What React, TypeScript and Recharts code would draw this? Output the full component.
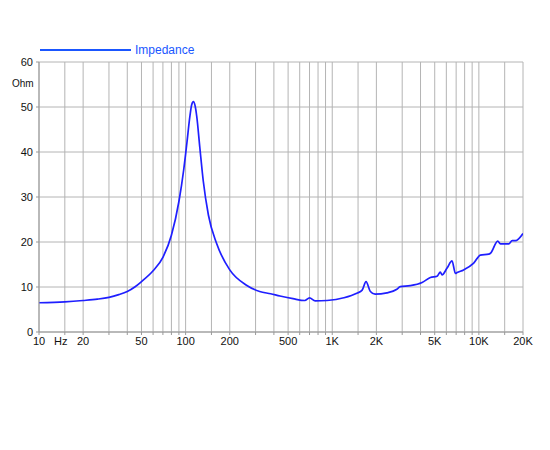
import { LineChart, Line, XAxis, YAxis, CartesianGrid } from "recharts";

const freqs = [
  10, 15, 20, 25, 30, 35, 40, 45, 50, 60, 70, 80, 90, 97, 102, 107, 110, 113,
  116, 119, 125, 132, 143, 163, 200, 260, 320, 380, 440, 540, 650, 700, 765,
  920, 1200, 1470, 1600, 1700, 1820, 1960, 2360, 2760, 2910, 3400, 4100, 4670,
  5190, 5460, 5610, 6070, 6560, 6920, 7100, 7870, 9220, 10240, 11670, 12000,
  13450, 14030, 16000, 16870, 17760, 20000,
];

const impedance = [
  6.5, 6.7, 7.0, 7.3, 7.7, 8.3, 9.0, 10.0, 11.2, 13.6, 16.6, 21.5, 29, 36, 42,
  48, 50.5, 51.2, 50.3, 48, 41, 33.5, 26, 19.6, 13.8, 10.4, 9.0, 8.5, 8.0, 7.4,
  7.0, 7.6, 6.9, 7.0, 7.6, 8.6, 9.3, 11.2, 9.0, 8.4, 8.7, 9.5, 10.1, 10.3,
  11.0, 12.1, 12.4, 13.3, 12.7, 14.2, 15.8, 13.0, 13.2, 13.8, 15.3, 17.1,
  17.3, 17.5, 20.2, 19.6, 19.6, 20.3, 20.3, 21.9,
];

const gridFreqs = [
  10, 15, 20, 30, 40, 50, 60, 70, 80, 90, 100, 150, 200, 300, 400, 500, 600,
  700, 800, 900, 1000, 1500, 2000, 3000, 4000, 5000, 6000, 7000, 8000, 9000,
  10000, 15000, 20000,
];

const freqLabels: Record<number, string> = {
  10: "10",
  20: "20",
  50: "50",
  100: "100",
  200: "200",
  500: "500",
  1000: "1K",
  2000: "2K",
  5000: "5K",
  10000: "10K",
  20000: "20K",
};

const ohmTicks = [0, 10, 20, 30, 40, 50, 60];

const data = freqs.map((f, i) => ({ f, z: impedance[i] }));

const FONT = "'Liberation Sans', Arial, sans-serif";
const BLUE = "#1f1fff";
const LEGEND_BLUE = "#1a56ff";

function FreqTick(props: any) {
  const { x, y, payload } = props;
  const v = payload.value;
  let label = freqLabels[v];
  let dx = 0;
  if (v === 15) {
    label = "Hz";
    dx = -4;
  }
  if (!label) return null;
  return (
    <text
      x={x + dx}
      y={y}
      dy="0.71em"
      textAnchor="middle"
      fontSize={11}
      fontFamily={FONT}
      fill="#111"
    >
      {label}
    </text>
  );
}

export default function App() {
  return (
    <div style={{ position: "relative", width: 550, height: 450 }}>
      <div
        style={{
          position: "absolute",
          left: 32,
          top: 35,
          display: "flex",
          alignItems: "center",
          fontFamily: FONT,
          fontSize: 12,
          color: LEGEND_BLUE,
        }}
      >
        <div style={{ width: 91, height: 2, background: LEGEND_BLUE, marginRight: 4 }} />
        <span>Impedance</span>
      </div>
      <div
        style={{
          position: "absolute",
          left: 4,
          top: 70,
          fontFamily: FONT,
          fontSize: 10,
          color: "#111",
        }}
      >
        Ohm
      </div>
      <LineChart
        width={550}
        height={450}
        data={data}
        margin={{ top: 54, right: 35, bottom: 96, left: 1 }}
      >
        <CartesianGrid stroke="#b4b4b4" strokeWidth={1} />
        <XAxis
          dataKey="f"
          type="number"
          scale="log"
          domain={[10, 20000]}
          ticks={gridFreqs}
          interval={0}
          allowDataOverflow
          height={30}
          tick={<FreqTick />}
          tickSize={3}
          tickMargin={2}
          stroke="#999"
        />
        <YAxis
          type="number"
          domain={[0, 60]}
          ticks={ohmTicks}
          interval={0}
          width={30}
          tickSize={3}
          tickMargin={3}
          stroke="#999"
          tick={{ fontSize: 11, fontFamily: FONT, fill: "#111" }}
        />
        <Line
          type="monotone"
          dataKey="z"
          stroke={BLUE}
          strokeWidth={1.7}
          dot={false}
          isAnimationActive={false}
        />
      </LineChart>
    </div>
  );
}
